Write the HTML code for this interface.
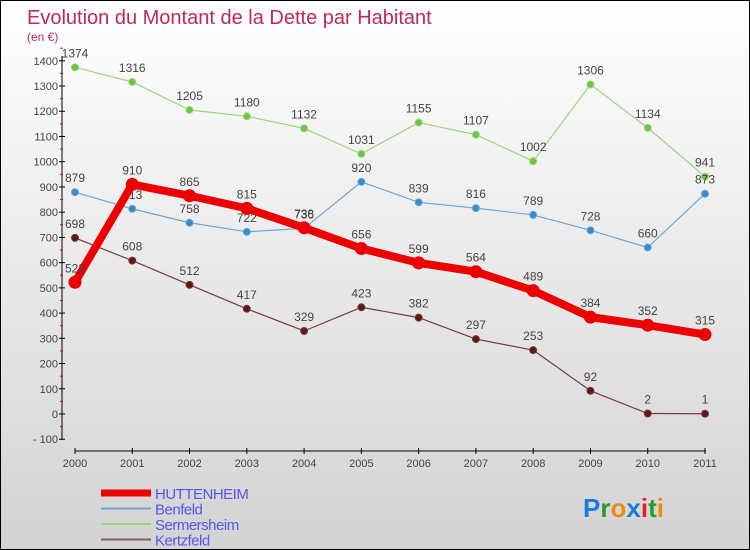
<!DOCTYPE html>
<html><head><meta charset="utf-8"><style>
body{margin:0}
#c{width:750px;height:550px;position:relative;box-sizing:border-box;border:1px solid #000;background:linear-gradient(#fff,#d3d3d3);font-family:"Liberation Sans",sans-serif;overflow:hidden}
</style></head><body>
<div id="c">
<svg id="s" width="748" height="548" style="position:absolute;left:0;top:0">
<text x="26" y="23" font-size="20" fill="#c0285a">Evolution du Montant de la Dette par Habitant</text>
<text x="26" y="40" font-size="12" fill="#c0285a">(en €)</text>
</svg>
</div>
<script>
const years=["2000","2001","2002","2003","2004","2005","2006","2007","2008","2009","2010","2011"];
const yTicks=[-100,0,100,200,300,400,500,600,700,800,900,1000,1100,1200,1300,1400];
const huttenheim=[522,910,865,815,738,656,599,564,489,384,352,315];
const benfeld=[879,813,758,722,736,920,839,816,789,728,660,873];
const sermersheim=[1374,1316,1205,1180,1132,1031,1155,1107,1002,1306,1134,941];
const kertzfeld=[698,608,512,417,329,423,382,297,253,92,2,1];
const svg=document.getElementById('s');const NS="http://www.w3.org/2000/svg";
function X(i){return 74+i*(630/11);}
function Y(v){return 413-v*0.2523;}
function mk(t,a,p){const e=document.createElementNS(NS,t);for(const k in a)e.setAttribute(k,a[k]);(p||svg).appendChild(e);return e;}
let ax=mk('line',{x1:61,y1:55,x2:61,y2:439,stroke:'#000'});


yTicks.forEach(v=>{mk('line',{x1:58,y1:Y(v),x2:64,y2:Y(v),stroke:'#000'});
mk('line',{x1:59,y1:Y(v+50),x2:62,y2:Y(v+50),stroke:'#e00'});
let t=mk('text',{x:57,y:Y(v)+4,'text-anchor':'end','font-size':11,fill:'#444'});t.textContent=(v<0?'- '+(-v):v);

});
let xa=mk('line',{x1:74,y1:450,x2:705,y2:450,stroke:'#000'});


years.forEach((y,i)=>{mk('line',{x1:X(i),y1:447,x2:X(i),y2:453,stroke:'#000'});
let t=mk('text',{x:X(i),y:466,'text-anchor':'middle','font-size':11,fill:'#444'});t.textContent=y;

});
function series(d,col,w,r,name,dot){const g=mk('g',{});


mk('polyline',{points:d.map((v,i)=>X(i)+','+Y(v)).join(' '),fill:'none',stroke:col,'stroke-width':w,'stroke-linejoin':'round'},g);
d.forEach((v,i)=>{const c=mk('circle',{cx:X(i),cy:Y(v),r:r,fill:dot,stroke:col},g);


const t=mk('text',{x:X(i),y:Y(v)-10,'text-anchor':'middle','font-size':12,fill:'#444'},g);t.textContent=v;

});}
series(kertzfeld,'#7a3a3a',1.2,3.5,'kertzfeld','#5a1a1a');
series(sermersheim,'#9ad67a',1.2,3.5,'sermersheim','#6cc440');
series(benfeld,'#6aa8d8',1.2,3.5,'benfeld','#3a8ac8');
series(huttenheim,'#ee0000',8,6,'huttenheim','#ee0000');
const leg=[['HUTTENHEIM','#ee0000',7],['Benfeld','#6aa8d8',2],['Sermersheim','#9ad67a',2],['Kertzfeld','#8a5a5a',2]];
leg.forEach((l,i)=>{const g=mk('g',{});


const y=492+i*15.5;mk('line',{x1:100,y1:y,x2:150,y2:y,stroke:l[1],'stroke-width':l[2]},g);
const t=mk('text',{x:154,y:y+6,'font-size':15,fill:'#5555ee','letter-spacing':'-0.5'},g);t.textContent=l[0];});
const lg=mk('text',{x:582,y:516,'font-size':26,'font-weight':'bold'});


[['P','#1a7ad8'],['r','#2a9a2a'],['o','#f08a10'],['x','#1a7ad8'],['i','#e02020'],['t','#2a9a2a'],['i','#f08a10']].forEach(p=>{const s=mk('tspan',{fill:p[1]},lg);s.textContent=p[0];});
</script>
</body></html>
